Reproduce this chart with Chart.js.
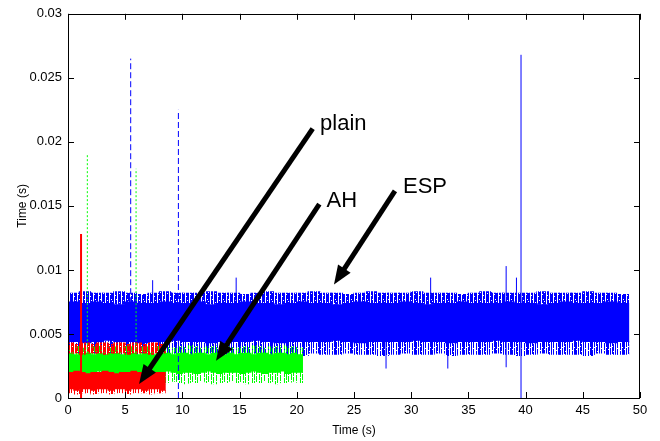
<!DOCTYPE html>
<html>
<head>
<meta charset="utf-8">
<script src="https://cdn.jsdelivr.net/npm/chart.js@4/dist/chart.umd.min.js"></script>
<style>
  html, body { margin: 0; padding: 0; background: #fff; }
</style>
</head>
<body>
<canvas id="myChart" width="660" height="441"></canvas>
<script>
// ---- axes ----
const xTickValues = [0, 5, 10, 15, 20, 25, 30, 35, 40, 45, 50];
const xTickLabels = ['0', '5', '10', '15', '20', '25', '30', '35', '40', '45', '50'];
const yTickValues = [0, 0.005, 0.01, 0.015, 0.02, 0.025, 0.03];
const yTickLabels = ['0', '0.005', '0.01', '0.015', '0.02', '0.025', '0.03'];

// ---- ESP (blue), 1 s bins from 0 s, values in ms ----
const espBinStep = 1;
const espCoreHi = [7.5,7.4,7.5,7.4,7.3,7.5,7.4,7.4,7.5,7.4, 7.4,7.5,7.3,7.4,7.4,7.5,7.4,7.4,7.3,7.4,
  7.5,7.4,7.4,7.3,7.4,7.5,7.4,7.4,7.4,7.5, 7.4,7.3,7.4,7.4,7.5,7.4,7.4,7.4,7.5,7.4,
  7.4,7.3,7.4,7.5,7.4,7.4,7.4,7.5,7.4];
const espCoreLo = [4.4,4.3,4.4,4.5,4.4,4.4,4.3,4.4,4.4,4.5, 4.4,4.4,4.3,4.4,4.4,4.4,4.5,4.4,4.3,4.4,
  4.4,4.4,4.4,4.5,4.4,4.3,4.4,4.4,4.4,4.4, 4.5,4.4,4.4,4.3,4.4,4.4,4.4,4.5,4.4,4.4,
  4.3,4.4,4.4,4.4,4.5,4.4,4.4,4.3,4.4];
const espOuterHi = [8.2,8.3,8.2,8.2,8.3,8.2,8.1,8.2,8.3,8.2, 8.2,8.2,8.3,8.2,8.2,8.1,8.2,8.3,8.2,8.2,
  8.2,8.3,8.2,8.2,8.1,8.2,8.3,8.2,8.2,8.2, 8.3,8.2,8.2,8.2,8.1,8.2,8.3,8.2,8.2,8.2,
  8.2,8.3,8.2,8.2,8.2,8.3,8.2,8.2,8.1];
const espOuterLo = [3.5,3.4,3.5,3.3,3.4,3.5,3.4,3.4,3.3,3.5, 3.4,3.4,3.5,3.4,3.3,3.4,3.5,3.4,3.4,3.4,
  3.3,3.5,3.4,3.4,3.5,3.4,3.4,3.3,3.4,3.5, 3.4,3.4,3.5,3.3,3.4,3.4,3.4,3.5,3.4,3.3,
  3.4,3.5,3.4,3.4,3.4,3.3,3.5,3.4,3.4];
// single outliers (s, ms)
const espDashT = [5.48, 9.65];
const espDashLo = [7.4, 0];
const espDashHi = [26.5, 22.5];
const espSpikeT = [7.4, 14.7, 27.8, 31.7, 33.2, 38.3, 39.2, 39.6];
const espSpikeLo = [7.4, 7.4, 2.3, 7.4, 2.3, 2.4, 7.4, 0];
const espSpikeHi = [9.2, 9.4, 4.4, 9.4, 4.4, 10.3, 9.4, 26.8];

// ---- AH (green), 0.5 s bins, ms ----
const ahBinStep = 0.5;
const ahCoreHi = [3.5,3.4,3.5,3.5,3.4,3.5,3.4,3.5,3.5,3.4, 3.5,3.5,3.4,3.5,3.5,3.4,3.5,3.5,3.4,3.5,
  3.5,3.4,3.5,3.5,3.4,3.5,3.5,3.4,3.5,3.4, 3.5,3.5,3.4,3.5,3.5,3.4,3.5,3.5,3.4,3.5, 3.4];
const ahCoreLo = [2.0,2.1,2.0,1.9,2.0,2.1,2.0,2.0,1.9,2.0, 2.0,2.1,1.9,2.0,2.0,1.9,2.0,2.1,2.0,1.9,
  2.0,2.0,1.9,2.0,2.1,2.0,1.9,2.0,2.0,2.0, 1.9,2.0,2.1,2.0,1.9,2.0,2.0,2.1,1.9,2.0, 2.0];
const ahOuterHi = [4.0,4.1,3.9,4.0,4.0,4.1,4.0,3.9,4.0,4.0, 4.1,4.0,3.9,4.0,4.0,4.1,4.0,4.0,3.9,4.0,
  4.0,4.1,4.0,3.9,4.0,4.0,4.1,4.0,4.0,3.9, 4.0,4.0,4.1,4.0,3.9,4.0,4.0,4.1,4.0,4.0, 3.9];
const ahOuterLo = [1.2,1.3,1.1,1.2,1.3,1.2,1.2,1.1,1.3,1.2, 1.2,1.1,1.2,1.3,1.2,1.2,1.1,1.2,1.3,1.2,
  1.1,1.2,1.2,1.3,1.2,1.1,1.2,1.2,1.3,1.2, 1.2,1.1,1.2,1.2,1.3,1.2,1.1,1.2,1.2,1.3, 1.2];
const ahDotT = [1.69, 5.95];
const ahDotLo = [3.5, 3.5];
const ahDotHi = [19.0, 17.9];

// ---- plain (red), 0.5 s bins, ms ----
const plainBinStep = 0.5;
const plainCoreHi = [2.0,2.1,2.0,1.9,2.0,2.0,2.1,2.0,1.9,2.0, 2.0,2.1,2.0,2.0,1.9,2.0,2.0];
const plainCoreLo = [0.7,0.6,0.7,0.7,0.6,0.7,0.7,0.6,0.7,0.7, 0.6,0.7,0.7,0.6,0.7,0.7,0.6];
const plainOuterLo = [0.4,0.3,0.4,0.4,0.3,0.4,0.4,0.3,0.4,0.4, 0.3,0.4,0.4,0.4,0.3,0.4,0.4];
const plainUpperHi = [4.3,4.2,4.3,4.3,4.2,4.3,4.3,4.2,4.3,4.3, 4.2,4.3,4.3,4.2,4.3,4.3,4.2];
const plainUpperLo = [3.5,3.5,3.4,3.5,3.5,3.5,3.4,3.5,3.5,3.5, 3.4,3.5,3.5,3.5,3.4,3.5,3.5];
const plainSpikeT = [1.14];
const plainSpikeLo = [0];
const plainSpikeHi = [12.8];

// ---- arrows and labels ----
const arrowLabels = ['plain', 'AH', 'ESP'];
const arrowFromT = [21.39, 21.97, 28.58];
const arrowFromY = [0.02104, 0.01513, 0.01617];
const arrowToT = [6.21, 12.94, 23.25];
const arrowToY = [0.00109, 0.0029, 0.00886];
const labelT = [22.03, 22.6, 29.28];
const labelY = [0.02137, 0.01539, 0.01648];

const BLUE = '#0000ff', GREEN = '#00ff00', RED = '#ff0000';
const FONT = '"Liberation Sans", Arial, Helvetica, sans-serif';

function band(step, lo, hi) {
  return lo.map((v, i) => ({ x: step * (i + 0.5), y: [v / 1000, hi[i] / 1000] }));
}
function spikes(t, lo, hi) {
  const out = [];
  t.forEach((v, i) => {
    out.push({ x: v, y: lo[i] / 1000 }, { x: v, y: hi[i] / 1000 }, { x: v, y: null });
  });
  return out;
}
// broken vertical-stroke texture for the ragged fringes
function texture(color, rows) {
  const c = document.createElement('canvas');
  c.width = rows[0].length; c.height = rows.length;
  const g = c.getContext('2d');
  g.fillStyle = color;
  rows.forEach((r, j) => {
    for (let i = 0; i < r.length; i++) if (r[i] === '1') g.fillRect(i, j, 1, 1);
  });
  return g.createPattern(c, 'repeat');
}

function barSet(data, color, thick, order) {
  return { type: 'bar', data: data, backgroundColor: color, borderWidth: 0,
    barThickness: thick, grouped: false, order: order };
}
function lineSet(data, color, width, dash, order) {
  return { type: 'line', data: data, borderColor: color, borderWidth: width, borderDash: dash,
    pointRadius: 0, spanGaps: false, fill: false, order: order };
}

const frame = {
  id: 'frame',
  afterDatasetsDraw(chart) {
    const { ctx, chartArea: a, scales: { x, y } } = chart;
    ctx.save();
    // arrows
    arrowLabels.forEach((lab, i) => {
      const x0 = x.getPixelForValue(arrowFromT[i]), y0 = y.getPixelForValue(arrowFromY[i]);
      const x1 = x.getPixelForValue(arrowToT[i]), y1 = y.getPixelForValue(arrowToY[i]);
      const ang = Math.atan2(y1 - y0, x1 - x0), c = Math.cos(ang), s = Math.sin(ang);
      const hl = 19, hw = 7.5;
      const bx = x1 - hl * c, by = y1 - hl * s;
      ctx.strokeStyle = '#000'; ctx.fillStyle = '#000'; ctx.lineWidth = 5;
      ctx.beginPath(); ctx.moveTo(x0, y0); ctx.lineTo(bx + 2 * c, by + 2 * s); ctx.stroke();
      ctx.beginPath(); ctx.moveTo(x1, y1);
      ctx.lineTo(bx - hw * s, by + hw * c); ctx.lineTo(bx + hw * s, by - hw * c);
      ctx.closePath(); ctx.fill();
      ctx.font = '22px ' + FONT; ctx.textAlign = 'left'; ctx.textBaseline = 'middle';
      ctx.fillText(lab, x.getPixelForValue(labelT[i]), y.getPixelForValue(labelY[i]));
    });
    // box and inward ticks
    ctx.strokeStyle = '#000'; ctx.lineWidth = 1;
    ctx.strokeRect(Math.round(a.left) + 0.5, Math.round(a.top) + 0.5,
      Math.round(a.right - a.left) - 1, Math.round(a.bottom - a.top));
    ctx.beginPath();
    xTickValues.forEach(v => {
      const px = Math.round(x.getPixelForValue(v)) + 0.5;
      ctx.moveTo(px, a.bottom); ctx.lineTo(px, a.bottom - 6);
      ctx.moveTo(px, a.top); ctx.lineTo(px, a.top + 6);
    });
    yTickValues.forEach(v => {
      const py = Math.round(y.getPixelForValue(v)) + 0.5;
      ctx.moveTo(a.left, py); ctx.lineTo(a.left + 6, py);
      ctx.moveTo(a.right, py); ctx.lineTo(a.right - 6, py);
    });
    ctx.stroke();
    ctx.restore();
  }
};

const blueTop = texture(BLUE, [
  '1101101110111011', '1101101110111011', '1101001110111010', '1101101110101011',
  '0101101110111011', '1101101010111011', '1101101110111001', '1100101110111011',
  '1101101110011011']);
const blueBot = texture(BLUE, [
  '1010110101001011', '1010110101001011', '1010010101001011', '1000110101001001',
  '1010110100001011', '0010110101001011', '1010110101000011', '1010100101001011']);
const greenFringe = texture(GREEN, [
  '1001010010001010', '1001010010001010', '1000010010001000', '1001010000001010',
  '0001010010001010', '1001000010001010', '1001010010000010']);
const redUpper = texture(RED, [
  '1110110111011101', '1110110111011101', '1110100111011101', '0110110111011001',
  '1110110101011101', '1110110111010101']);
const redFringe = texture(RED, [
  '1010010100100101', '1010010100100101', '1000010100100001', '1010010000100101',
  '0010010100100100']);

const ctx = document.getElementById('myChart');
const myChart = new Chart(ctx, {
  type: 'bar',
  data: {
    datasets: [
      lineSet(spikes(plainSpikeT, plainSpikeLo, plainSpikeHi), RED, 2, [], 0),
      lineSet(spikes(espDashT, espDashLo, espDashHi), BLUE, 1, [6, 3], 0),
      lineSet(spikes(espSpikeT, espSpikeLo, espSpikeHi), BLUE, 1, [], 0),
      lineSet(spikes(ahDotT, ahDotLo, ahDotHi), GREEN, 1, [2, 2], 0),
      barSet(band(plainBinStep, plainUpperLo, plainUpperHi), redUpper, 6, 1),
      barSet(band(plainBinStep, plainCoreLo, plainCoreHi), RED, 6, 1),
      barSet(band(plainBinStep, plainOuterLo, plainCoreLo), redFringe, 6, 1),
      barSet(band(ahBinStep, ahCoreLo, ahCoreHi), GREEN, 6, 2),
      barSet(band(ahBinStep, ahCoreHi, ahOuterHi), greenFringe, 6, 2),
      barSet(band(ahBinStep, ahOuterLo, ahCoreLo), greenFringe, 6, 2),
      barSet(band(espBinStep, espCoreLo, espCoreHi), BLUE, 12, 3),
      barSet(band(espBinStep, espCoreHi, espOuterHi), blueTop, 12, 3),
      barSet(band(espBinStep, espOuterLo, espCoreLo), blueBot, 12, 3),
    ],
  },
  options: {
    responsive: false,
    animation: false,
    layout: { padding: { left: 0, right: 20, top: 12, bottom: 0 } },
    plugins: { legend: { display: false }, tooltip: { enabled: false } },
    scales: {
      x: {
        type: 'linear', min: 0, max: 50, offset: false,
        grid: { display: false, drawTicks: false }, border: { display: false },
        afterBuildTicks: (s) => { s.ticks = xTickValues.map(v => ({ value: v })); },
        afterFit: (s) => { s.height = 43; },
        ticks: { color: '#000', font: { family: FONT, size: 13 }, padding: 5, maxRotation: 0,
          callback: (v) => xTickLabels[xTickValues.indexOf(v)] },
        title: { display: true, text: 'Time (s)', color: '#000', font: { family: FONT, size: 12 },
          padding: { top: 0, bottom: 3 } },
      },
      y: {
        min: 0, max: 0.03,
        grid: { display: false, drawTicks: false }, border: { display: false },
        afterBuildTicks: (s) => { s.ticks = yTickValues.map(v => ({ value: v })); },
        afterFit: (s) => { s.width = 68; },
        ticks: { color: '#000', font: { family: FONT, size: 13 }, padding: 6,
          callback: (v) => yTickLabels[yTickValues.indexOf(v)] },
        title: { display: true, text: 'Time (s)', color: '#000', font: { family: FONT, size: 12 },
          padding: { top: 15, bottom: 0 } },
      },
    },
  },
  plugins: [frame],
});
</script>
</body>
</html>
